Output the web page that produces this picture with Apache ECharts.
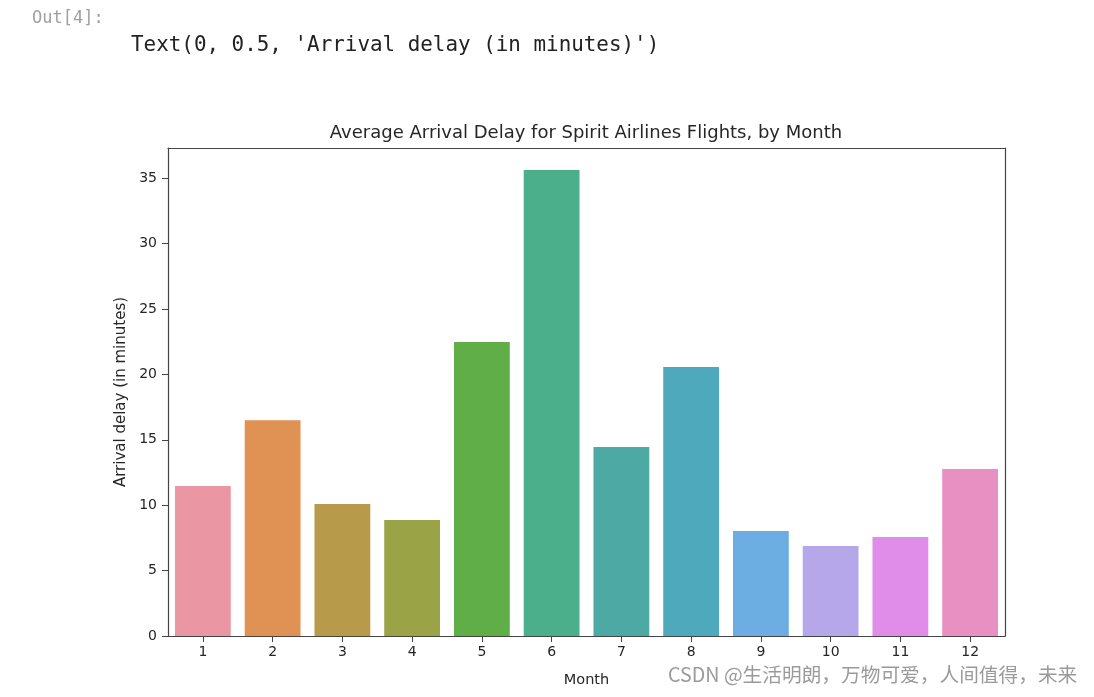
<!DOCTYPE html>
<html>
<head>
<meta charset="utf-8">
<script src="https://cdn.jsdelivr.net/npm/echarts@6/dist/echarts.min.js"></script>
<style>
html,body{margin:0;padding:0;background:#fff;}
#chart{width:1094px;height:697px;}
</style>
</head>
<body>
<div id="chart"></div>
<script>
const months = ['1','2','3','4','5','6','7','8','9','10','11','12'];
const delays = [11.46, 16.5, 10.09, 8.86, 22.47, 35.61, 14.44, 20.56, 8.02, 6.88, 7.57, 12.76];
const barColors = ['#ea96a3','#e09154','#b89b4a','#9aa447','#60ae47','#4aaf8a','#4ca9a4','#4ea9bd','#6caee1','#b6a6ea','#df8de8','#e990c3'];
const yTicks = [0, 5, 10, 15, 20, 25, 30, 35];

const chart = echarts.init(document.getElementById('chart'), null, {renderer:'canvas'});
const axisColor = '#444';
const txt = '#262626';
const font = 'DejaVu Sans';
chart.setOption({
  animation: false,
  backgroundColor: '#fff',
  title: {
    text: 'Average Arrival Delay for Spirit Airlines Flights, by Month',
    left: 581, top: 119, textAlign: 'center',
    textStyle: {fontFamily: font, fontSize: 18, fontWeight: 'normal', color: txt}
  },
  graphic: [
    {type:'text', left: 32, top: 10, style:{text:'Out[4]:', font:'17px "DejaVu Sans Mono"', fill:'#a0a0a0'}},
    {type:'text', left: 131, top: 35, style:{text:"Text(0, 0.5, 'Arrival delay (in minutes)')", font:'20.9px "DejaVu Sans Mono"', fill:'#222'}},
    {type:'text', left: 668, top: 665, style:{text:'CSDN @生活明朗，万物可爱，人间值得，未来', font:'19.7px "Noto Sans CJK SC"', fill:'#9a9a9a'}}
  ],
  grid: {left: 168, right: 89, top: 148, bottom: 61, containLabel: false},
  xAxis: [{
    type: 'category', data: months, boundaryGap: true,
    name: 'Month', nameLocation: 'middle', nameGap: 37,
    nameTextStyle: {fontFamily: font, fontSize: 14.5, color: txt},
    axisLine: {show: true, lineStyle: {color: axisColor, width: 1.2}},
    axisTick: {show: true, alignWithLabel: true, length: 6, lineStyle: {color: axisColor}},
    axisLabel: {fontFamily: font, fontSize: 14, color: txt, margin: 9},
    splitLine: {show: false}
  }, {
    type: 'category', data: months, position: 'top',
    axisLine: {show: true, onZero: false, lineStyle: {color: axisColor, width: 1.2}},
    axisTick: {show: false}, axisLabel: {show: false}, splitLine: {show: false}
  }],
  yAxis: [{
    type: 'value', min: 0, max: 37.3, interval: 5,
    name: 'Arrival delay (in minutes)', nameLocation: 'middle', nameGap: 37,
    nameTextStyle: {fontFamily: font, fontSize: 15, color: txt},
    axisLine: {show: true, lineStyle: {color: axisColor, width: 1.2}},
    axisTick: {show: true, length: 6, lineStyle: {color: axisColor}},
    axisLabel: {fontFamily: font, fontSize: 14, color: txt, margin: 11,
      formatter: v => yTicks.includes(v) ? String(v) : '', showMaxLabel: false},
    splitLine: {show: false}
  }, {
    type: 'value', min: 0, max: 37.3, position: 'right',
    axisLine: {show: true, onZero: false, lineStyle: {color: axisColor, width: 1.2}},
    axisTick: {show: false}, axisLabel: {show: false}, splitLine: {show: false}
  }],
  series: [{
    type: 'bar',
    data: delays.map((v, i) => ({value: v, itemStyle: {color: barColors[i]}})),
    barWidth: '80%'
  }]
});
</script>
</body>
</html>
